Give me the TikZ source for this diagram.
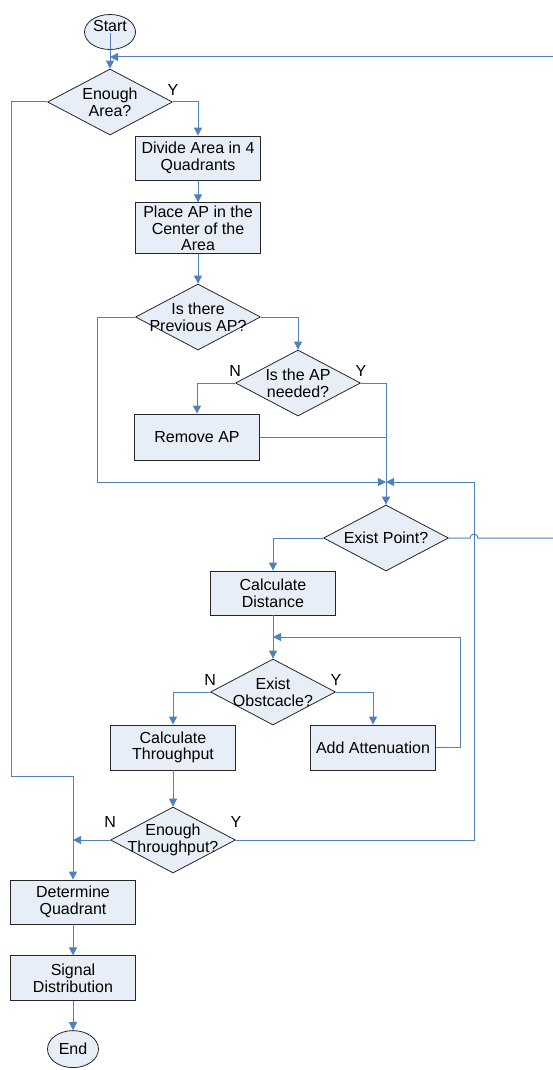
\documentclass[tikz,border=0pt]{standalone}
\usepackage{fontspec}
\setmainfont{Liberation Sans}
\usepackage{tikz}
\definecolor{flowblue}{RGB}{79,129,189}
\definecolor{boxfill}{RGB}{232,238,247}
\usetikzlibrary{shapes.geometric,arrows.meta,positioning}

\begin{document}
\begin{tikzpicture}[
  x=1pt, y=-1pt,
  every node/.style={font=\fontsize{16}{16.6}\selectfont},
  flowbox/.style={
    draw=black!85,
    line width=0.8pt,
    fill=boxfill,
    rectangle,
    minimum width=125pt,
    minimum height=44pt,
    inner sep=0pt,
    align=center
    },
  decision/.style={
    draw=black!85,
    line width=0.8pt,
    fill=boxfill,
    diamond,
    minimum width=125pt,
    minimum height=66pt,
    inner sep=0pt,
    label={[align=center]center:#1}
    },
  terminal/.style={
    draw=black!85,
    line width=0.8pt,
    fill=boxfill,
    ellipse,
    minimum width=51pt,
    minimum height=35pt,
    inner sep=0pt
    },
  flowline/.style={
    draw=flowblue,
    line width=1pt,
    -{Triangle[length=8pt,width=8pt]}
    },
  joinline/.style={draw=flowblue, line width=1pt},
  answer/.style={inner sep=0pt}
]
\useasboundingbox (0,0) rectangle (553,1070);

\node[terminal] (start) at (110,32) {\raisebox{6pt}[\height][\depth]{Start}};
\node[decision={Enough\\Area?}] (area) at (110,102) {};
\node[flowbox] (divide) at (198,158) {Divide Area in 4\\Quadrants};
\node[flowbox, minimum height=51pt, below=22pt of divide] (place) {Place AP in the\\Center of the\\Area};
\node[decision={Is there\\Previous AP?}] (previous) at (198,317) {};
\node[decision={Is the AP\\needed?}] (needed) at (298,383) {};
\node[flowbox, minimum height=46pt] (remove) at (197,437) {Remove AP};
\node[decision={Exist Point?}] (point) at (386,538) {};
\node[flowbox] (distance) at (273,593) {Calculate\\Distance};
\node[decision={Exist\\Obstcacle?}] (obstacle) at (273,692) {};
\node[flowbox, minimum height=45pt] (throughput) at (173,747.5) {Calculate\\Throughput};
\node[flowbox, minimum height=45pt] (attenuation) at (373,747.5) {Add Attenuation};
\node[decision={Enough\\Throughput?}] (enough) at (173,840) {};
\node[flowbox] (quadrant) at (73,902) {Determine\\Quadrant};
\node[flowbox, minimum height=45pt, below=31pt of quadrant] (signal) {Signal\\Distribution};
\node[terminal, minimum height=37pt, below=29pt of signal] (end) {End};

% answers
\node[answer, above=6pt] at (area.east) {Y};
\node[answer, above=6pt] at (needed.west) {N};
\node[answer, above=6pt] at (needed.east) {Y};
\node[answer, above=6pt] at (obstacle.west) {N};
\node[answer, above=6pt] at (obstacle.east) {Y};
\node[answer, above=12pt] at (enough.west) {N};
\node[answer, above=12pt] at (enough.east) {Y};

% junctions and loose ends
\coordinate (topin) at (110,57);
\coordinate (topedge) at (553,57);
\coordinate (hopstart) at (470,538);
\coordinate (pointedge) at (553,538);
\coordinate (join) at (386,482);
\coordinate (loopright) at (474,482);
\coordinate (attenjoin) at (273,637);
\coordinate (leftcorner) at (11,776);
\coordinate (nojoin) at (73,840);

\draw[flowline] ([yshift=-1pt]start.center) -- (area.north);
\draw[flowline] (topedge) -- (topin);
\draw[flowline] (area.east) -| (divide.north);
\draw[flowline] (divide.south) -- (place.north);
\draw[flowline] (place.south) -- (previous.north);
\draw[flowline] (previous.east) -| (needed.north);
\draw[flowline] (needed.west) -| (remove.north);
\draw[flowline] (needed.east) -| (point.north);
\draw[joinline] (remove.east) -- (remove.east -| point.north);
\draw[flowline] (previous.west) -- ++(-38,0) |- (join);
\draw[flowline] (enough.east) -| (loopright) -- (join);
\draw[flowline] (point.west) -| (distance.north);
\draw[joinline] (point.east) -- (hopstart) arc[start angle=180, end angle=0, radius=4pt] -- (pointedge);
\draw[flowline] (distance.south) -- (obstacle.north);
\draw[flowline] (attenuation.east) -- ++(25,0) |- (attenjoin);
\draw[flowline] (obstacle.west) -| (throughput.north);
\draw[flowline] (obstacle.east) -| (attenuation.north);
\draw[flowline] (throughput.south) -- (enough.north);
\draw[flowline] (area.west) -| (leftcorner) -| (quadrant.north);
\draw[flowline] (enough.west) -- (nojoin);
\draw[flowline] (quadrant.south) -- (signal.north);
\draw[flowline] (signal.south) -- (end.north);
\end{tikzpicture}
\end{document}
